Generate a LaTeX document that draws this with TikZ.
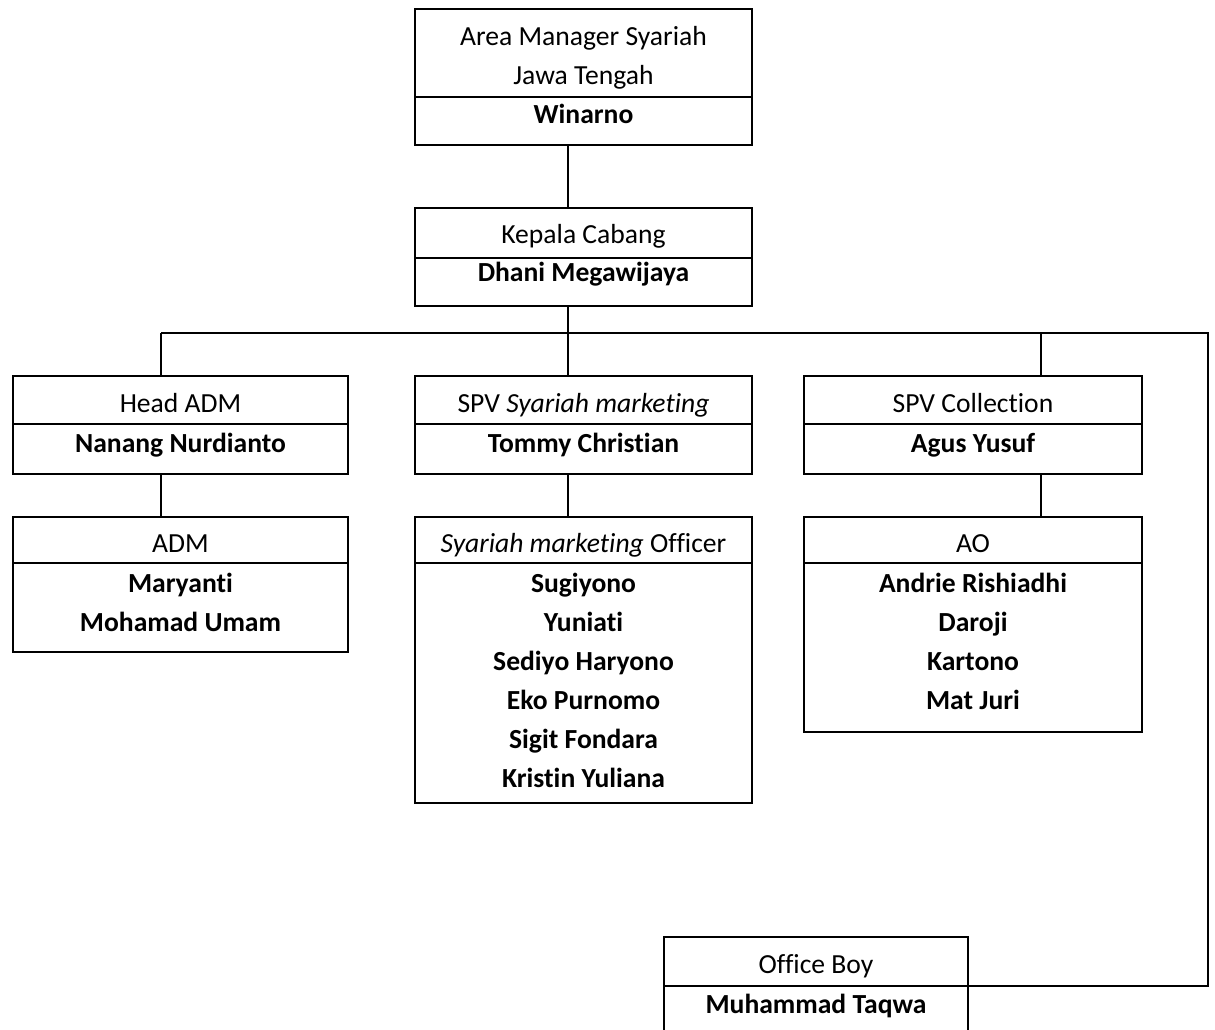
\documentclass[tikz,border=0pt]{standalone}
\usepackage{fontspec}
\setmainfont[Ligatures=NoCommon]{Carlito}
\tikzset{
  unit/.style={draw, line width=1.5pt, inner sep=0pt},
  txt/.style={anchor=base, inner sep=0pt, font=\fontsize{27.6}{39}\selectfont},
  nm/.style={txt, font=\fontsize{27.6}{39}\selectfont\bfseries},
  link/.style={line width=1.5pt}
}
\begin{document}
\begin{tikzpicture}[x=1pt,y=-1pt]
\clip (0,0) rectangle (1215,1030);
% boxes
\node[unit, minimum width=337pt, minimum height=136pt] (ams) at (583.5,77) {};
\node[unit, minimum width=337pt, minimum height=98pt] (kc) at (583.5,257) {};
\node[unit, minimum width=335pt, minimum height=98pt] (hadm) at (180.5,425) {};
\node[unit, minimum width=337pt, minimum height=98pt] (spvsm) at (583.5,425) {};
\node[unit, minimum width=338pt, minimum height=98pt] (spvcol) at (973,425) {};
\node[unit, minimum width=335pt, minimum height=135pt] (adm) at (180.5,584.5) {};
\node[unit, minimum width=337pt, minimum height=286pt] (smo) at (583.5,660) {};
\node[unit, minimum width=338pt, minimum height=215pt] (ao) at (973,624.5) {};
\node[unit, minimum width=304pt, minimum height=103pt] (ob) at (816,988.5) {};
% dividing lines
\foreach \n/\y in {ams/97, kc/258, hadm/424, spvsm/424, spvcol/424, adm/563, smo/563, ao/563, ob/986}
  \draw[link] (\n.west |- 0,\y) -- (\n.east |- 0,\y);
%
\node[txt] (ams-t1) at (583.5,46) {Area Manager Syariah};
\node[txt] (ams-t2) at (583.5,85) {Jawa Tengah};
\node[nm] (ams-n) at (583.5,124) {Winarno};
\node[txt] (kc-t) at (583.5,243) {Kepala Cabang};
\node[nm] (kc-n) at (583.5,281) {Dhani Megawijaya};
\node[txt] (hadm-t) at (180.5,412) {Head ADM};
\node[nm] (hadm-n) at (180.5,452) {Nanang Nurdianto};
\node[txt] (spvsm-t) at (583.5,412) {SPV \textit{Syariah marketing}};
\node[nm] (spvsm-n) at (583.5,452) {Tommy Christian};
\node[txt] (spvcol-t) at (973,412) {SPV Collection};
\node[nm] (spvcol-n) at (973,452) {Agus Yusuf};
\node[txt] (adm-t) at (180.5,552) {ADM};
\node[txt] (smo-t) at (583.5,552) {\textit{Syariah marketing} Officer};
\node[txt] (ao-t) at (973,552) {AO};
\node[txt] (ob-t) at (816,973) {Office Boy};
\node[nm] (ob-n) at (816,1013) {Muhammad Taqwa};
\foreach \nm [count=\i] in {Maryanti, Mohamad Umam}
  \node[nm] (adm-\i) at (180.5,553+39*\i) {\nm};
\foreach \nm [count=\i] in {Sugiyono, Yuniati, Sediyo Haryono, Eko Purnomo, Sigit Fondara, Kristin Yuliana}
  \node[nm] (smo-\i) at (583.5,553+39*\i) {\nm};
\foreach \nm [count=\i] in {Andrie Rishiadhi, Daroji, Kartono, Mat Juri}
  \node[nm] (ao-\i) at (973,553+39*\i) {\nm};
% connectors
\coordinate (c1) at (161,333);
\coordinate (c2) at (568,333);
\coordinate (c3) at (1041,333);
\coordinate (rt) at (1208,333);
\coordinate (obj) at (ob.east |- 0,986);
\draw[link] (c2 |- ams.south) -- (c2 |- kc.north);
\draw[link] (c2 |- kc.south) -- (c2);
\draw[link] (c1) -- (rt) |- (obj);
\draw[link] (c1) -- (c1 |- hadm.north);
\draw[link] (c2) -- (c2 |- spvsm.north);
\draw[link] (c3) -- (c3 |- spvcol.north);
\draw[link] (c1 |- hadm.south) -- (c1 |- adm.north);
\draw[link] (c2 |- spvsm.south) -- (c2 |- smo.north);
\draw[link] (c3 |- spvcol.south) -- (c3 |- ao.north);
\end{tikzpicture}
\end{document}
